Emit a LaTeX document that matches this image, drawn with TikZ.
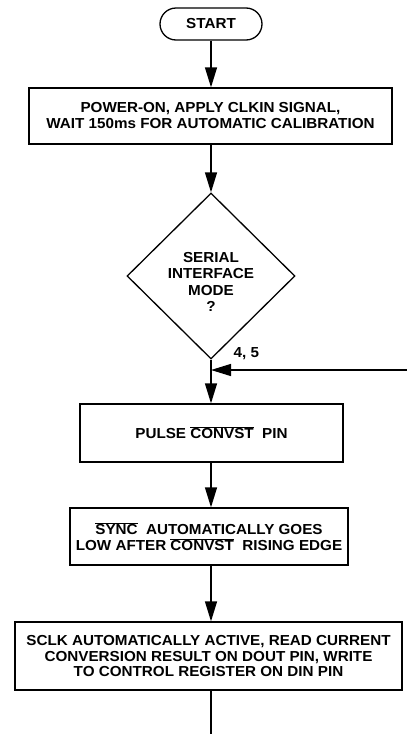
\documentclass[tikz,border=0pt]{standalone}
\usepackage{fontspec}
\setmainfont{Liberation Sans}[FakeStretch=1.05]
\usetikzlibrary{arrows.meta,shapes.geometric}
\newcommand\ovbar[1]{$\overline{\mbox{#1}}$}
\tikzset{
  every picture/.style={line width=1.3pt},
  txt/.style={font=\bfseries\fontsize{14.5}{16}\selectfont, align=center},
  procbox/.style={draw, rectangle, txt, inner sep=0pt},
  flowarrow/.style={-{Triangle[length=20pt,width=12pt]}},
}
\begin{document}
\begin{tikzpicture}[x=1pt,y=-1pt]
\useasboundingbox (0,0) rectangle (407,734);
\node[draw, rectangle, rounded corners=16pt, minimum width=102pt, minimum height=32pt, txt] (start) at (211,24) {START};
\node[procbox, minimum width=363pt, minimum height=56pt] (b1) at (210.5,116) {POWER-ON, APPLY CLKIN SIGNAL,\\WAIT 150ms FOR AUTOMATIC CALIBRATION};
\node[draw, diamond, inner sep=0pt, minimum width=168pt, minimum height=166pt] (dia) at (211,276) {};
\node[txt, font=\bfseries\fontsize{14.5}{16.2}\selectfont] (diatext) at (211,282) {SERIAL\\INTERFACE\\MODE\\?};
\node[txt, anchor=west, inner sep=0pt] (lbl) at (233,354) {4, 5};
\coordinate (join) at (211,370);
\coordinate (rightin) at (407,370);
\node[procbox, minimum width=263pt, minimum height=58pt] (b2) at (211.5,433) {PULSE \ovbar{CONVST}\ \ PIN};
\node[procbox, minimum width=278pt, minimum height=57pt] (b3) at (209,536.5) {\ovbar{SYNC}\ \ AUTOMATICALLY GOES\\LOW AFTER \ovbar{CONVST}\ \ RISING EDGE};
\node[procbox, minimum width=387pt, minimum height=68pt, font=\bfseries\fontsize{14.5}{15.5}\selectfont] (b4) at (208.5,656) {SCLK AUTOMATICALLY ACTIVE, READ CURRENT\\CONVERSION RESULT ON DOUT PIN, WRITE\\TO CONTROL REGISTER ON DIN PIN};
\coordinate (endpt) at (211,734);
\draw[flowarrow] (start.south) -- (start.south |- b1.north);
\draw[flowarrow] (b1.south -| dia.north) -- (dia.north);
\draw (dia.south) -- (join);
\draw[flowarrow] (rightin) -- (join);
\draw[flowarrow] (join) -- (join |- b2.north);
\draw[flowarrow] (b2.south -| join) -- (b3.north -| join);
\draw[flowarrow] (b3.south -| join) -- (b4.north -| join);
\draw (b4.south -| join) -- (endpt);
\end{tikzpicture}
\end{document}
